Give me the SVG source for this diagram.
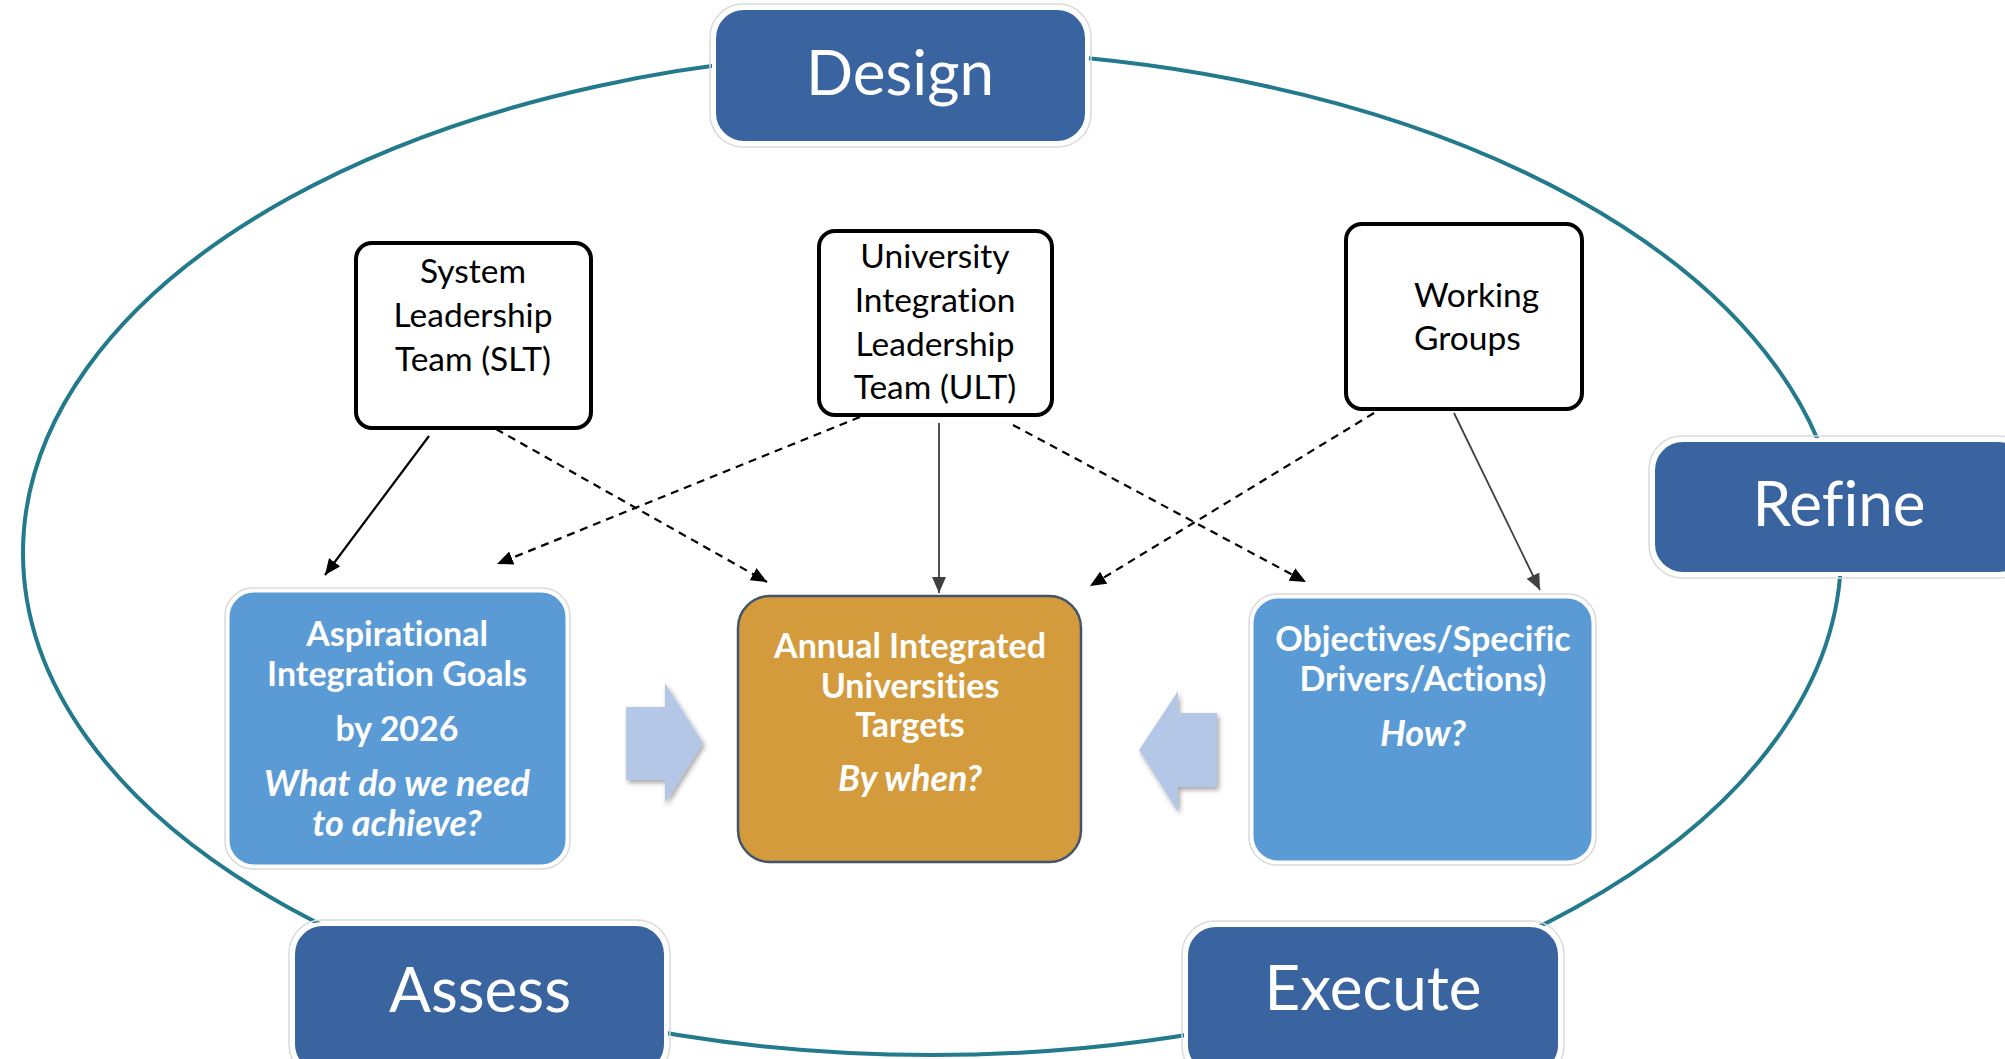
<svg xmlns="http://www.w3.org/2000/svg" width="2005" height="1059" viewBox="0 0 2005 1059">
<style>
text{font-variant-ligatures:none;font-feature-settings:"liga" 0,"dlig" 0}
.phase{fill:#3A64A0;stroke:#fff;stroke-width:4}
.halo{fill:none;stroke:#DADADA;stroke-width:1.5}
.phaseTxt{font-family:Lato,"Open Sans",sans-serif;font-size:62px;fill:#fff;text-anchor:middle}
.team{fill:#fff;stroke:#000;stroke-width:4}
.teamTxt{font-family:Lato,"Open Sans",sans-serif;font-size:33.5px;fill:#000;text-anchor:middle}
.blue{fill:#5B9BD5;stroke:#fff;stroke-width:3}
.gold{fill:#D39B3C;stroke:#44546A;stroke-width:2.5}
.boxTxt{font-family:Lato,"Open Sans",sans-serif;font-size:34px;font-weight:bold;fill:#fff;text-anchor:middle}
.it{font-style:italic;font-size:36px}
.dash{fill:none;stroke:#000;stroke-width:2.2;stroke-dasharray:8 6}
.solid{fill:none;stroke:#000;stroke-width:2.2}
.grey{fill:none;stroke:#404040;stroke-width:1.8}
.block{fill:#B4C7E7}
</style>
<defs>
<marker id="ah" markerUnits="userSpaceOnUse" markerWidth="18" markerHeight="14" refX="16" refY="7" orient="auto">
<path d="M0,0 L16,7 L0,14 Z" fill="#000"/>
</marker>
<marker id="ahg" markerUnits="userSpaceOnUse" markerWidth="18" markerHeight="14" refX="16" refY="7" orient="auto">
<path d="M0,0 L16,7 L0,14 Z" fill="#404040"/>
</marker>
<filter id="sh" x="-30%" y="-30%" width="160%" height="160%">
<feDropShadow dx="2" dy="3" stdDeviation="2.5" flood-color="#000" flood-opacity="0.35"/>
</filter>
</defs>
<rect width="2005" height="1059" fill="#fff"/>
<ellipse id="cycle" cx="932" cy="553" rx="909" ry="502" fill="none" stroke="#237A8C" stroke-width="4"/>

<g id="connectors">
<line class="solid" x1="429" y1="436" x2="325" y2="575" marker-end="url(#ah)"/>
<line class="dash" x1="496" y1="429" x2="767" y2="582" marker-end="url(#ah)"/>
<line class="dash" x1="860" y1="417" x2="497" y2="564" marker-end="url(#ah)"/>
<line class="grey" x1="939" y1="423" x2="939" y2="593" marker-end="url(#ahg)"/>
<line class="dash" x1="1013" y1="425" x2="1306" y2="582" marker-end="url(#ah)"/>
<line class="dash" x1="1374" y1="413" x2="1090" y2="586" marker-end="url(#ah)"/>
<line class="grey" x1="1454" y1="413" x2="1540" y2="590" marker-end="url(#ahg)"/>
<path id="arrowRight" class="block" filter="url(#sh)" d="M626,707 L665,707 L665,683 L703,743 L665,803 L665,780 L626,780 Z"/>
<path id="arrowLeft" class="block" filter="url(#sh)" d="M1217,713 L1178,713 L1178,691 L1139,750 L1178,812 L1178,787 L1217,787 Z"/>
</g>

<g id="design">
<rect class="halo" x="710" y="4" width="381" height="143" rx="33"/>
<rect class="phase" x="714" y="8" width="373" height="135" rx="30"/>
<text class="phaseTxt" x="900" y="95">Design</text>
</g>
<g id="refine">
<rect class="halo" x="1649" y="436" width="383" height="142" rx="33"/>
<rect class="phase" x="1653" y="440" width="375" height="134" rx="30"/>
<text class="phaseTxt" x="1839" y="526">Refine</text>
</g>
<g id="execute">
<rect class="halo" x="1182" y="921" width="382" height="158" rx="33"/>
<rect class="phase" x="1186" y="925" width="374" height="150" rx="30"/>
<text class="phaseTxt" x="1373" y="1010">Execute</text>
</g>
<g id="assess">
<rect class="halo" x="289" y="920" width="381" height="158" rx="33"/>
<rect class="phase" x="293" y="924" width="373" height="150" rx="30"/>
<text class="phaseTxt" x="480" y="1012">Assess</text>
</g>

<g id="slt">
<rect class="team" x="356" y="243" width="235" height="185" rx="16"/>
<text class="teamTxt" x="473" y="283">System</text>
<text class="teamTxt" x="473" y="327">Leadership</text>
<text class="teamTxt" x="473" y="371">Team (SLT)</text>
</g>
<g id="ult">
<rect class="team" x="819" y="231" width="233" height="184" rx="16"/>
<text class="teamTxt" x="935" y="268">University</text>
<text class="teamTxt" x="935" y="312">Integration</text>
<text class="teamTxt" x="935" y="356">Leadership</text>
<text class="teamTxt" x="935" y="399">Team (ULT)</text>
</g>
<g id="wg">
<rect class="team" x="1346" y="224" width="236" height="185" rx="16"/>
<text class="teamTxt" x="1414" y="307" style="text-anchor:start">Working</text>
<text class="teamTxt" x="1414" y="350" style="text-anchor:start">Groups</text>
</g>

<g id="aspirational">
<rect class="halo" x="225" y="588" width="345" height="281" rx="28"/>
<rect class="blue" x="228" y="591" width="339" height="275" rx="26"/>
<text class="boxTxt" x="397" y="646">Aspirational</text>
<text class="boxTxt" x="397" y="686">Integration Goals</text>
<text class="boxTxt" x="397" y="741">by 2026</text>
<text class="boxTxt it" x="397" y="796">What do we need</text>
<text class="boxTxt it" x="397" y="836">to achieve?</text>
</g>
<g id="annual">
<rect class="gold" x="738" y="596" width="343" height="266" rx="32"/>
<text class="boxTxt" x="910" y="658">Annual Integrated</text>
<text class="boxTxt" x="910" y="698">Universities</text>
<text class="boxTxt" x="910" y="737">Targets</text>
<text class="boxTxt it" x="910" y="791">By when?</text>
</g>
<g id="objectives">
<rect class="halo" x="1249" y="594" width="347" height="271" rx="28"/>
<rect class="blue" x="1252" y="597" width="341" height="265" rx="26"/>
<text class="boxTxt" x="1423" y="651">Objectives/Specific</text>
<text class="boxTxt" x="1423" y="691">Drivers/Actions)</text>
<text class="boxTxt it" x="1423" y="746">How?</text>
</g>
</svg>
